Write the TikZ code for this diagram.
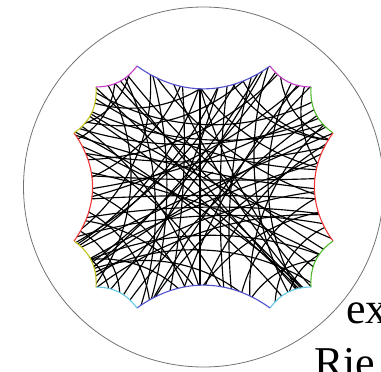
\documentclass[tikz,border=0pt]{standalone}
\usepackage{fontspec}
\usepackage{xcolor}
\usepackage{tikz}
\usetikzlibrary{calc}
\newfontfamily\bookfont{Liberation Serif}
\definecolor{sideblue}{RGB}{80,80,205}
\definecolor{sidemag}{RGB}{195,60,195}
\definecolor{sidegreen}{RGB}{80,185,45}
\definecolor{sidered}{RGB}{240,55,55}
\definecolor{sidecyan}{RGB}{100,200,230}
\definecolor{sideyellow}{RGB}{195,195,30}

\begin{document}
\begin{tikzpicture}[x=1pt,y=-1pt,
  traj/.style={black,line width=1.15pt},
  rim/.style={line width=1.1pt}]
  \useasboundingbox (0,0) rectangle (381,372);
  \clip (0,0) rectangle (381,372);
  % Poincare disc, centre (203.5,187), radius 180
  \draw[gray!90!black,line width=0.8pt] (203.5,187) circle[radius=180];
  % fundamental polygon, clockwise from the top side
  \coordinate (v1) at (137,66);
  \coordinate (v2) at (270,66);
  \coordinate (v3) at (311,87);
  \coordinate (v4) at (333,133);
  \coordinate (v5) at (333,241);
  \coordinate (v6) at (311,287);
  \coordinate (v7) at (270,308);
  \coordinate (v8) at (137,308);
  \coordinate (v9) at (96,287);
  \coordinate (v10) at (74,241);
  \coordinate (v11) at (74,133);
  \coordinate (v12) at (96,87);
  % geodesic through two points: orthogonal circle, clipped to the polygon
  \begin{scope}
    \clip (v1) to[bend right=36] (v2) to[bend right=26] (v3)
      to[bend right=29] (v4) to[bend right=36] (v5) to[bend right=29] (v6)
      to[bend right=26] (v7) to[bend right=36] (v8) to[bend right=26] (v9)
      to[bend right=29] (v10) to[bend right=36] (v11) to[bend right=29] (v12)
      to[bend right=26] (v1);
    \foreach \ax/\ay/\bx/\by in {
      200/80/200/300, 150/66/148/310, 123/74/141/305, 182/80/168/300,
      228/80/225/300, 253/72/233/305, 292/82/297/290, 268/68/288/292,
      105/80/95/285,
      75/200/335/200, 78/152/330/146, 85/218/335/216, 80/236/335/226,
      80/106/330/122, 95/92/320/98, 78/128/333/112, 80/175/330/178,
      85/262/320/255, 90/275/310/282,
      96/88/300/287, 90/113/320/233, 110/78/315/268, 78/150/230/305,
      150/68/333/200, 85/210/150/305, 200/87/330/170, 90/140/285/300,
      125/72/325/250, 80/125/200/290, 240/75/330/140, 170/75/300/285,
      76/185/190/300,
      93/267/327/127, 110/290/263/70, 80/240/240/75, 150/305/330/150,
      85/180/180/87, 200/290/333/210, 78/200/300/85, 130/300/325/110,
      88/260/330/160, 250/300/330/120, 100/285/330/215,
      80/125/130/70, 76/140/115/75, 85/100/210/82, 78/120/250/75,
      280/70/330/140, 305/85/333/180, 230/80/333/140,
      78/230/120/300, 85/260/180/290, 76/250/110/295, 90/270/250/300,
      80/220/200/295,
      250/300/325/260, 275/305/330/225, 240/300/333/190, 290/290/330/250,
      80/160/280/72, 82/190/330/100, 120/300/220/80, 180/300/300/82,
      78/170/330/260, 90/95/333/170, 150/70/80/230, 220/82/80/245,
      260/70/90/270, 310/87/150/305, 333/140/200/300,
      76/135/330/190, 80/110/300/290, 78/250/320/140, 82/270/270/80,
      76/245/200/85, 90/280/330/190, 300/285/90/150, 295/288/120/80,
      305/280/200/86} {
      \pgfmathsetmacro\pu{(\ax-203.5)/180}
      \pgfmathsetmacro\pv{(187-\ay)/180}
      \pgfmathsetmacro\qu{(\bx-203.5)/180}
      \pgfmathsetmacro\qv{(187-\by)/180}
      \pgfmathsetmacro\pa{(1+(\pu)*(\pu)+(\pv)*(\pv))/2}
      \pgfmathsetmacro\qa{(1+(\qu)*(\qu)+(\qv)*(\qv))/2}
      \pgfmathsetmacro\dd{(\pu)*(\qv)-(\pv)*(\qu)}
      \pgfmathtruncatemacro\isline{abs(\dd)<0.03}
      \ifnum\isline=1
        \draw[traj] ($(\ax,\ay)!-0.2!(\bx,\by)$) -- ($(\bx,\by)!-0.2!(\ax,\ay)$);
      \else
        \pgfmathsetmacro\cu{((\pa)*(\qv)-(\pv)*(\qa))/(\dd)}
        \pgfmathsetmacro\cv{((\pu)*(\qa)-(\qu)*(\pa))/(\dd)}
        \pgfmathsetmacro\rr{sqrt((\cu)*(\cu)+(\cv)*(\cv)-1)}
        \draw[traj] ({203.5+180*(\cu)},{187-180*(\cv)}) circle[radius=180*\rr];
      \fi
    }
    % last piece of the trajectory
    \draw[traj] (203,178) -- (213,172);
  \end{scope}
  % sides, paired by colour
  \draw[rim,sideblue] (v1) to[bend right=36] (v2);
  \draw[rim,sidemag] (v2) to[bend right=26] (v3);
  \draw[rim,sidegreen] (v3) to[bend right=29] (v4);
  \draw[rim,sidered] (v4) to[bend right=36] (v5);
  \draw[rim,sidegreen] (v5) to[bend right=29] (v6);
  \draw[rim,sidecyan] (v6) to[bend right=26] (v7);
  \draw[rim,sideblue] (v7) to[bend right=36] (v8);
  \draw[rim,sidecyan] (v8) to[bend right=26] (v9);
  \draw[rim,sideyellow] (v9) to[bend right=29] (v10);
  \draw[rim,sidered] (v10) to[bend right=36] (v11);
  \draw[rim,sideyellow] (v11) to[bend right=29] (v12);
  \draw[rim,sidemag] (v12) to[bend right=26] (v1);
  % page text running past the figure
  \node[font=\bookfont\fontsize{44}{52}\selectfont,anchor=base west,inner sep=0pt] (ex) at (346,323) {ex};
  \node[font=\bookfont\fontsize{44}{52}\selectfont,anchor=base west,inner sep=0pt] (rie) at (314,377) {Rie};
\end{tikzpicture}
\end{document}
